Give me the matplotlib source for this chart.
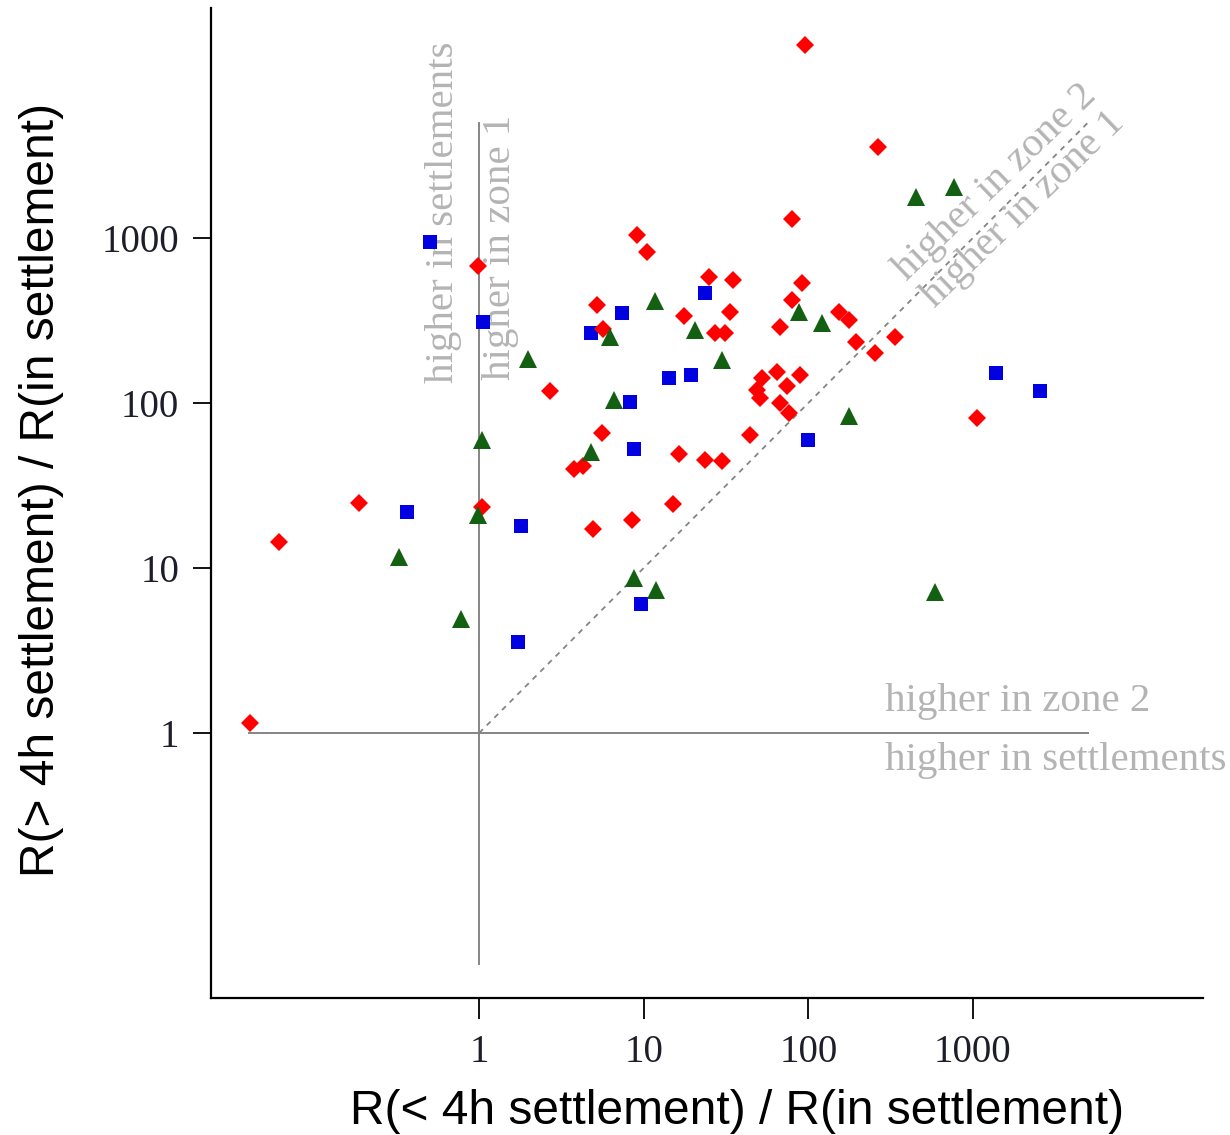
#!/usr/bin/env python3
# -*- coding: utf-8 -*-
"""
Ratio scatter: R(< 4h settlement)/R(in settlement) vs R(> 4h settlement)/R(in settlement)
"""

import matplotlib
matplotlib.use('Agg')  # Non-interactive backend
import matplotlib.pyplot as plt
from matplotlib.ticker import FixedLocator, FixedFormatter, NullLocator

# Red diamonds
red_x = [96, 265, 80, 9.1, 10.5, 0.99, 25, 35, 92, 5.2, 80, 17.6, 33.6, 153, 176,
         5.7, 27.2, 31.3, 67.6, 196, 338, 255, 2.7,
         64.5, 52.3, 48.8, 51, 74, 89, 67.6, 76,
         5.6, 3.8, 4.3, 16.3, 23.6, 30, 44, 1060, 15, 8.5, 4.95,
         0.187, 1.04, 0.061, 0.0405]
red_y = [14800, 3570, 1300, 1040, 820, 680, 580, 555, 536, 393, 420, 337, 357, 357, 319,
         280, 265, 265, 290, 235, 252, 200, 118,
         155, 141, 120, 107, 126, 148, 100, 87,
         66, 40, 41.5, 49, 45, 44.7, 64, 81, 24.4, 19.5, 17.2,
         24.7, 23.5, 14.3, 1.15]

# Green triangles
green_x = [453, 770, 11.8, 88, 121, 6.26, 20.6, 30, 1.97, 6.6, 178, 1.04, 4.8,
           0.98, 0.327, 0.78, 8.7, 11.9, 586]
green_y = [1780, 2050, 418, 358, 305, 252, 277, 182, 184, 105, 83, 60, 50.7,
           21, 11.7, 4.9, 8.7, 7.4, 7.2]

# Blue squares
blue_x = [0.5, 1.05, 23.6, 7.4, 4.8, 14.2, 19.4, 8.3, 8.75, 100, 1390, 2570,
          0.367, 1.8, 1.73, 9.6]
blue_y = [940, 308, 466, 350, 267, 141, 148, 101, 53, 60, 153, 119,
          21.8, 18, 3.55, 6.05]

tick_values = [1, 10, 100, 1000]
tick_labels = ['1', '10', '100', '1000']

SERIF = ['Liberation Serif', 'DejaVu Serif']
SANS = ['Liberation Sans', 'DejaVu Sans']
NOTE_GRAY = '#b4b4b4'
LINE_GRAY = '#858585'
NOTE_SIZE = 29.5


def create_ratio_plot():
    fig = plt.figure(figsize=(12.3, 11.35), dpi=100)
    ax = fig.add_axes([0.1715, 0.1207, 0.8065, 0.8723])

    ax.set_xscale('log')
    ax.set_yscale('log')
    ax.set_xlim(0.0235, 25000)
    ax.set_ylim(0.0248, 24800)

    # Reference lines
    ax.plot([1, 1], [0.04, 5000], color=LINE_GRAY, linewidth=1.4, zorder=1)
    ax.plot([0.04, 5000], [1, 1], color=LINE_GRAY, linewidth=1.4, zorder=1)
    ax.plot([1, 5000], [1, 5000], color=LINE_GRAY, linewidth=1.3,
            linestyle=(0, (3, 3)), zorder=1)

    # Data
    ax.plot(blue_x, blue_y, 's', color='#0000e0', markersize=9.5,
            markeredgewidth=0, zorder=3)
    ax.plot(red_x, red_y, 'D', color='#ff0000', markersize=9,
            markeredgewidth=0, zorder=4)
    ax.plot(green_x, green_y, '^', color='#136013', markersize=12.5,
            markeredgewidth=0, zorder=5)

    # Region notes
    ax.text(0.604, 132, 'higher in settlements', rotation=90, ha='center',
            va='bottom', fontsize=NOTE_SIZE, color=NOTE_GRAY, family=SERIF, zorder=2)
    ax.text(1.342, 138, 'higher in zone 1', rotation=90, ha='center',
            va='bottom', fontsize=NOTE_SIZE, color=NOTE_GRAY, family=SERIF, zorder=2)
    ax.text(294, 1.2, 'higher in zone 2', ha='left', va='bottom',
            fontsize=NOTE_SIZE, color=NOTE_GRAY, family=SERIF, zorder=2)
    ax.text(294, 0.88, 'higher in settlements', ha='left', va='top',
            fontsize=NOTE_SIZE, color=NOTE_GRAY, family=SERIF, zorder=2)
    ax.text(1371, 2154, 'higher in zone 2', rotation=44, ha='center',
            va='center', rotation_mode='anchor', fontsize=NOTE_SIZE,
            color=NOTE_GRAY, family=SERIF, zorder=2)
    ax.text(2028, 1479, 'higher in zone 1', rotation=44, ha='center',
            va='center', rotation_mode='anchor', fontsize=NOTE_SIZE,
            color=NOTE_GRAY, family=SERIF, zorder=2)

    # Axes styling
    for side in ['top', 'right']:
        ax.spines[side].set_visible(False)
    for side in ['left', 'bottom']:
        ax.spines[side].set_linewidth(1.6)
        ax.spines[side].set_color('black')

    for axis in [ax.xaxis, ax.yaxis]:
        axis.set_major_locator(FixedLocator(tick_values))
        axis.set_major_formatter(FixedFormatter(tick_labels))
        axis.set_minor_locator(NullLocator())
    ax.tick_params(axis='both', which='major', direction='out', length=13,
                   width=1.3, color='black', pad=10, labelsize=28,
                   labelcolor='#1e1e2a')
    ax.tick_params(axis='x', length=15, pad=11)
    for lab in ax.get_xticklabels() + ax.get_yticklabels():
        lab.set_family(SERIF)

    # Axis titles
    fig.text(0.599, 0.0205, 'R(< 4h settlement) / R(in settlement)',
             ha='center', va='center', fontsize=34.5, family=SANS)
    fig.text(0.034, 0.568, 'R(> 4h settlement) / R(in settlement)',
             ha='center', va='center', rotation=90, fontsize=34.5, family=SANS)

    fig.savefig('out.png', dpi=100, facecolor='white')
    plt.close(fig)
    print("[OK] Saved: out.png")


if __name__ == '__main__':
    create_ratio_plot()
